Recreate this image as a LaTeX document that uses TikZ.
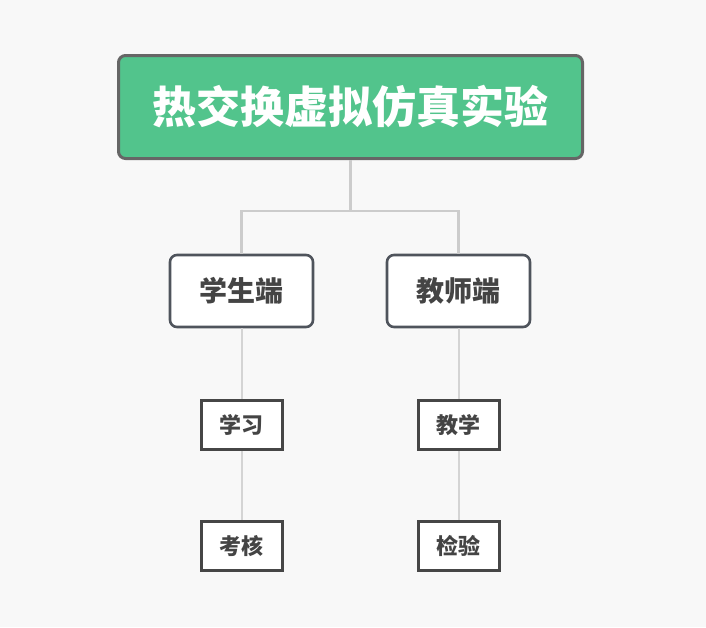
\documentclass[tikz,border=0pt]{standalone}
\usepackage{fontspec}
\newfontfamily\cjk{Noto Sans CJK SC}
\usetikzlibrary{positioning}
\definecolor{rootgreen}{RGB}{82,196,140}
\definecolor{rootline}{RGB}{102,102,102}
\definecolor{midline}{RGB}{79,84,92}
\definecolor{leafline}{RGB}{70,70,70}
\definecolor{textgray}{RGB}{68,68,68}
\definecolor{linkgray}{RGB}{204,204,204}
\definecolor{thingray}{RGB}{212,212,212}
\definecolor{bggray}{RGB}{248,248,248}

\begin{document}
\begin{tikzpicture}[x=1pt, y=-1pt,
    rootbox/.style={draw=rootline, line width=3pt, fill=rootgreen, rounded corners=7pt,
        minimum width=464pt, minimum height=103pt, inner sep=0pt,
        font=\cjk\bfseries\fontsize{44}{44}\selectfont, text=white},
    sidebox/.style={draw=midline, line width=2.6pt, fill=white, rounded corners=7pt,
        minimum width=143pt, minimum height=72pt, inner sep=0pt,
        font=\cjk\bfseries\fontsize{28}{28}\selectfont, text=textgray},
    taskbox/.style={draw=leafline, line width=3pt, fill=white,
        minimum width=81pt, minimum height=49pt, inner sep=0pt,
        font=\cjk\bfseries\fontsize{22}{22}\selectfont, text=textgray},
    link/.style={draw=linkgray, line width=2.6pt},
    thinlink/.style={draw=thingray, line width=2pt}]
    \fill[bggray] (0,0) rectangle (706,627);
    \useasboundingbox (0,0) rectangle (706,627);

    \node[rootbox] (root) at (350.5,107) {热交换虚拟仿真实验};

    \node[sidebox] (student) at (241.5,291) {学生端};
    \node[sidebox] (teacher) at (458.5,291) {教师端};

    \node[taskbox] (study) at (241.5,425) {学习};
    \node[taskbox] (exam)  at (241.5,546) {考核};
    \node[taskbox] (teach) at (458.5,425) {教学};
    \node[taskbox] (check) at (458.5,546) {检验};

    % root to the two sides
    \coordinate (fork) at (350.5,211);
    \draw[link] (root.south) -- (fork) -| (student.north);
    \draw[link] (fork) -| (teacher.north);

    % sides to their tasks
    \draw[thinlink] (student.south) -- (study.north);
    \draw[thinlink] (study.south) -- (exam.north);
    \draw[thinlink] (teacher.south) -- (teach.north);
    \draw[thinlink] (teach.south) -- (check.north);
\end{tikzpicture}
\end{document}
